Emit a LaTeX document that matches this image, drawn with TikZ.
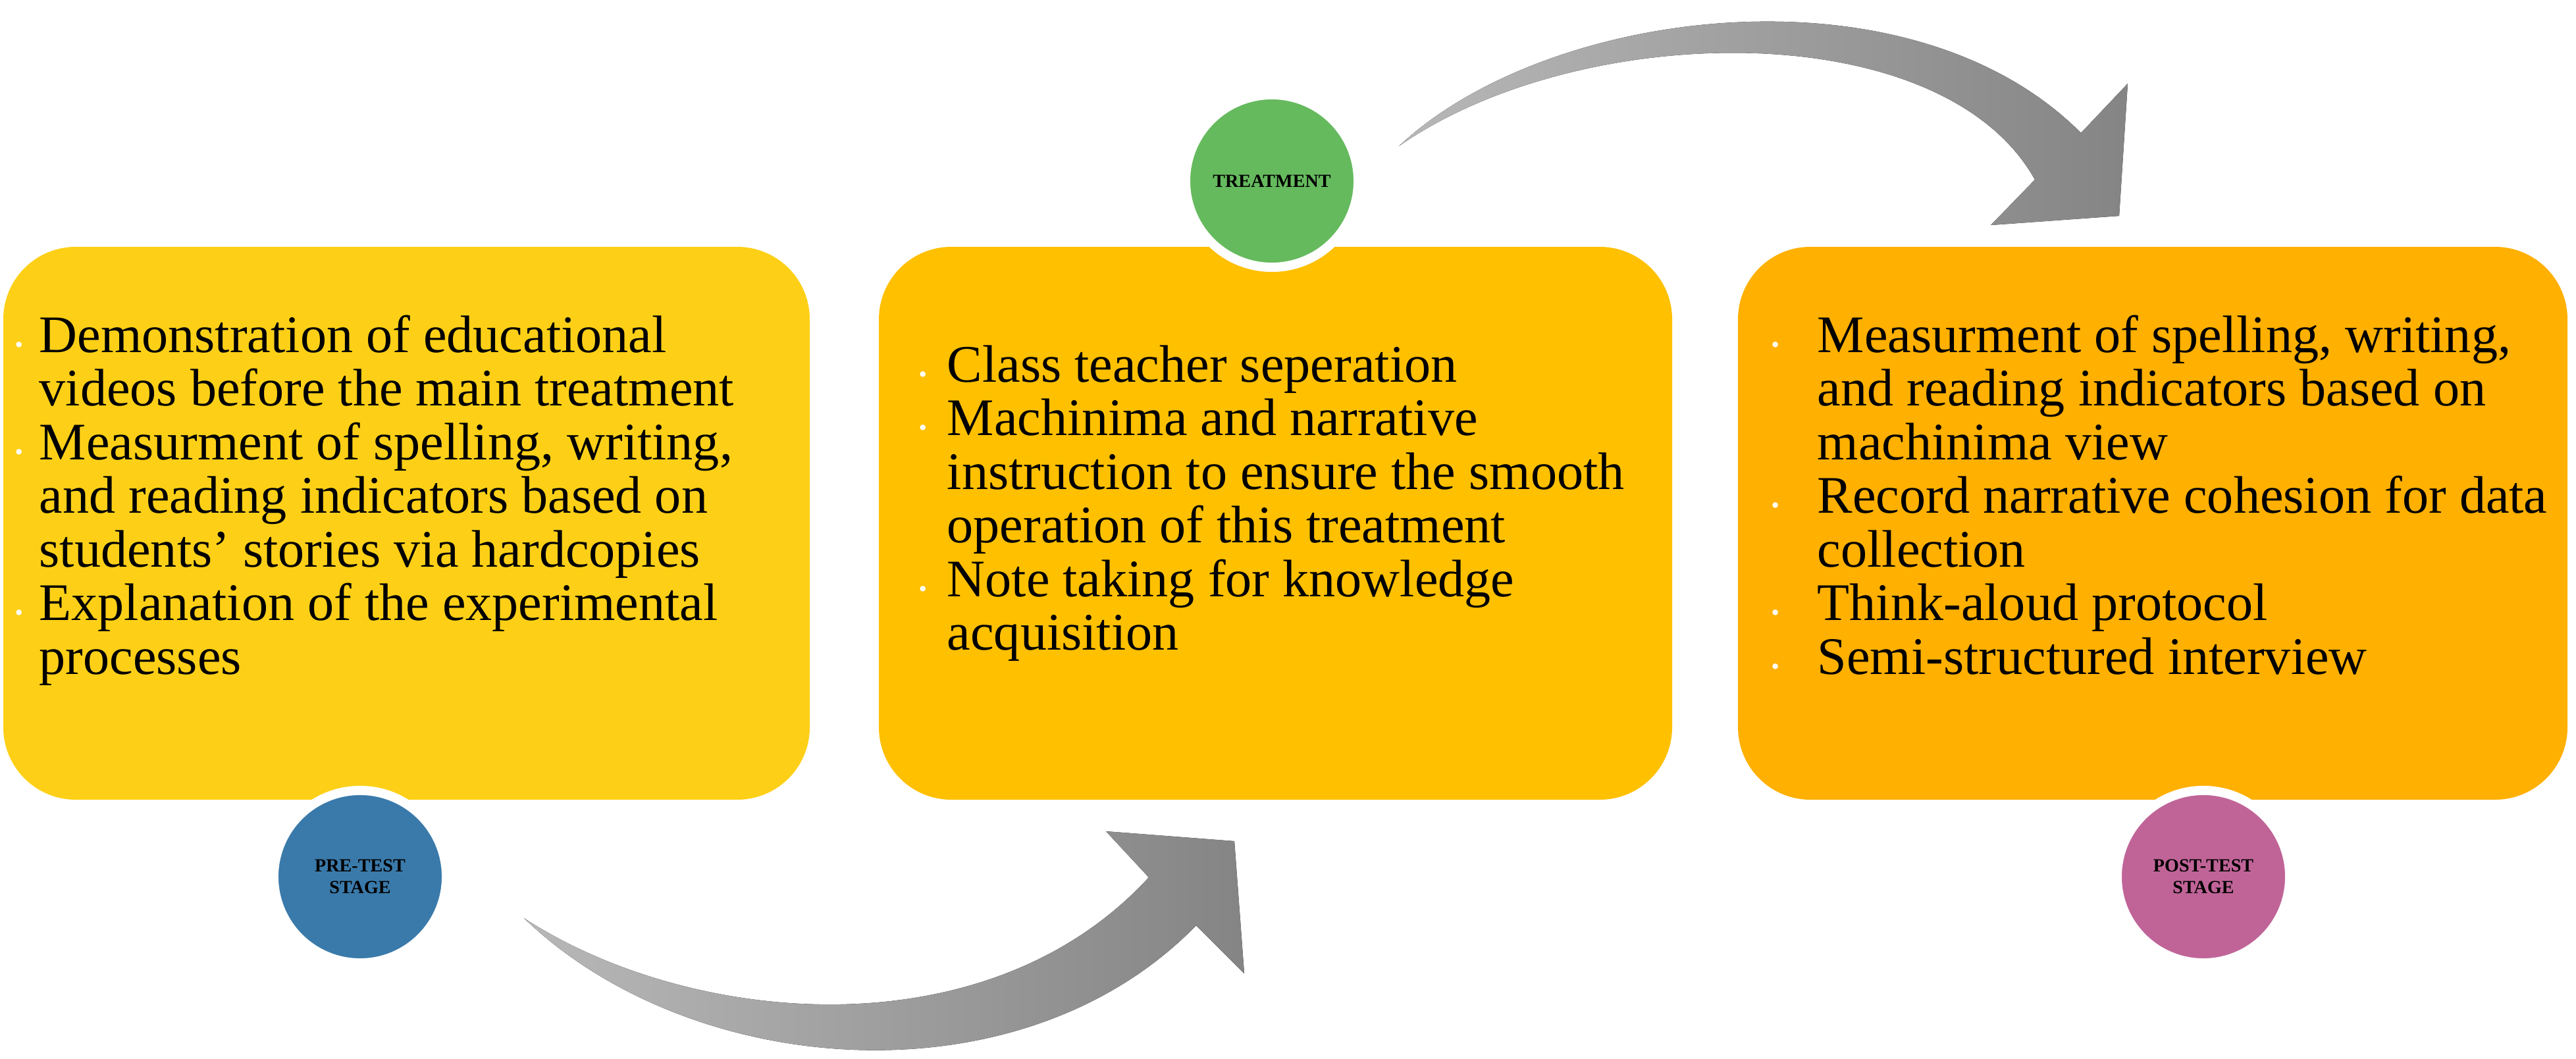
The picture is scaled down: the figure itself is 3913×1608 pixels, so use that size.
\documentclass[tikz,border=0pt]{standalone}
\usepackage{fontspec}
\setmainfont{Liberation Serif}
\usetikzlibrary{shapes.geometric}
\definecolor{boxA}{RGB}{253,208,23}
\definecolor{boxB}{RGB}{255,192,0}
\definecolor{boxC}{RGB}{255,176,0}
\definecolor{cGreen}{RGB}{102,186,94}
\definecolor{cBlue}{RGB}{58,122,170}
\definecolor{cPink}{RGB}{192,100,152}
\newcommand{\wb}{\textcolor{white}{\fontsize{10}{10}\selectfont\textbullet}}
\begin{document}
\begin{tikzpicture}[x=0.01cm,y=-0.01cm,
  stagebox/.style={rounded corners=1.1cm},
  txt/.style={anchor=base west,inner sep=0pt,font=\fontsize{22.8}{23.2}\selectfont},
  stage/.style={circle,draw=white,line width=4pt,minimum size=2.62cm,inner sep=0pt,align=center,font=\bfseries\fontsize{8}{9.5}\selectfont},
  grayarrow/.style={left color=black!28,right color=black!48}]
\useasboundingbox (0,0) rectangle (3913,1608);
% boxes
\fill[boxA,stagebox] (5,375) rectangle (1230,1215);
\fill[boxB,stagebox] (1335,375) rectangle (2540,1215);
\fill[boxC,stagebox] (2640,375) rectangle (3900,1215);
% arrows
\fill[grayarrow] (796,1395) .. controls (1050,1640) and (1550,1680) .. (1817,1406)
  -- (1890,1479) -- (1875,1278) -- (1680,1263) -- (1745,1333)
  .. controls (1500,1600) and (1050,1560) .. (796,1395) -- cycle;
\fill[grayarrow] (2125,222) .. controls (2350,10) and (2900,-60) .. (3161,202)
  -- (3232,127) -- (3219,328) -- (3024,342) -- (3091,273)
  .. controls (2950,20) and (2400,30) .. (2125,222) -- cycle;
% texts
\node[txt] (t1) at (22,535) {\begin{tabular}[t]{@{}p{0.37cm}@{}l@{}}
\wb & Demonstration of educational\\
 & videos before the main treatment\\
\wb & Measurment of spelling, writing,\\
 & and reading indicators based on\\
 & students' stories via hardcopies\\
\wb & Explanation of the experimental\\
 & processes\end{tabular}};
\node[txt] (t2) at (1395,580) {\begin{tabular}[t]{@{}p{0.43cm}@{}l@{}}
\wb & Class teacher seperation\\
\wb & Machinima and narrative\\
 & instruction to ensure the smooth\\
 & operation of this treatment\\
\wb & Note taking for knowledge\\
 & acquisition\end{tabular}};
\node[txt] (t3) at (2690,535) {\begin{tabular}[t]{@{}p{0.7cm}@{}l@{}}
\wb & Measurment of spelling, writing,\\
 & and reading indicators based on\\
 & machinima view\\
\wb & Record narrative cohesion for data\\
 & collection\\
\wb & Think-aloud protocol\\
\wb & Semi-structured interview\end{tabular}};
% circles
\node[stage,fill=cGreen] (treat) at (1932,275) {TREATMENT};
\node[stage,fill=cBlue] (pre) at (547,1332) {PRE-TEST\\STAGE};
\node[stage,fill=cPink] (post) at (3347,1332) {POST-TEST\\STAGE};
\end{tikzpicture}
\end{document}
